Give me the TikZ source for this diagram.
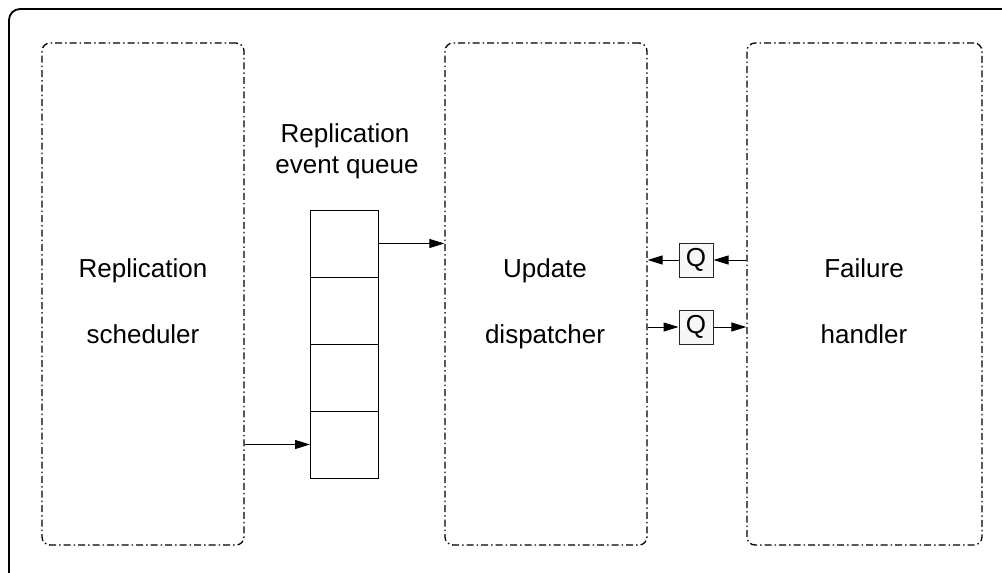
\documentclass[tikz,border=0pt]{standalone}
\usepackage{fontspec}
\setmainfont{Liberation Sans}
\usetikzlibrary{arrows.meta}

\tikzset{
  procbox/.style={draw=black, line width=1.3pt, rounded corners=8pt,
    dash pattern=on 7pt off 3pt on 1.5pt off 3pt, inner sep=0pt},
  lbl/.style={anchor=base, inner sep=0pt, font=\fontsize{26}{31}\selectfont},
  cell/.style={draw=black, line width=1pt, minimum width=68pt,
    minimum height=67pt, inner sep=0pt, outer sep=0pt},
  qbox/.style={draw=black!85, fill=black!3, line width=1pt, minimum size=34pt,
    inner sep=0pt, font=\fontsize{26}{31}\selectfont},
  arr/.style={draw=black, line width=1pt,
    -{Triangle[length=15pt, width=9pt]}},
}

\begin{document}
\begin{tikzpicture}[x=1pt, y=-1pt]
  \clip (0,0) rectangle (1002,573);
  \fill[white] (0,0) rectangle (1002,573);

  % outer frame, running past the right and lower edges
  \draw[line width=1.8pt, rounded corners=11pt] (9,9) rectangle (1030,600);

  % the three processes
  \node[procbox, minimum width=202pt, minimum height=502pt] (sched) at (143,294) {};
  \node[procbox, minimum width=202pt, minimum height=502pt] (disp) at (546,294) {};
  \node[procbox, minimum width=235pt, minimum height=502pt] (fail) at (864.5,294) {};

  \node[lbl] (schedA) at (143,277) {Replication};
  \node[lbl] (schedB) at (143,343) {scheduler};
  \node[lbl] (dispA) at (545,277) {Update};
  \node[lbl] (dispB) at (545,343) {dispatcher};
  \node[lbl] (failA) at (864,277) {Failure};
  \node[lbl] (failB) at (864,343) {handler};

  % replication event queue
  \node[lbl] (queueA) at (345,142) {Replication};
  \node[lbl] (queueB) at (347,173) {event queue};
  \node[cell] (q1) at (344,243.5) {};
  \node[cell, anchor=north] (q2) at (q1.south) {};
  \node[cell, anchor=north] (q3) at (q2.south) {};
  \node[cell, anchor=north] (q4) at (q3.south) {};

  \draw[arr] (q4.west -| sched.east) -- (q4.west);
  \draw[arr] (q1.east) -- (q1.east -| disp.west);

  % queues between dispatcher and failure handler
  \node[qbox] (qa) at (696,260) {Q};
  \node[qbox] (qb) at (696,327) {Q};

  \draw[arr] (qa.east -| fail.west) -- (qa.east);
  \draw[arr] (qa.west) -- (qa.west -| disp.east);
  \draw[arr] (qb.west -| disp.east) -- (qb.west);
  \draw[arr] (qb.east) -- (qb.east -| fail.west);
\end{tikzpicture}
\end{document}
